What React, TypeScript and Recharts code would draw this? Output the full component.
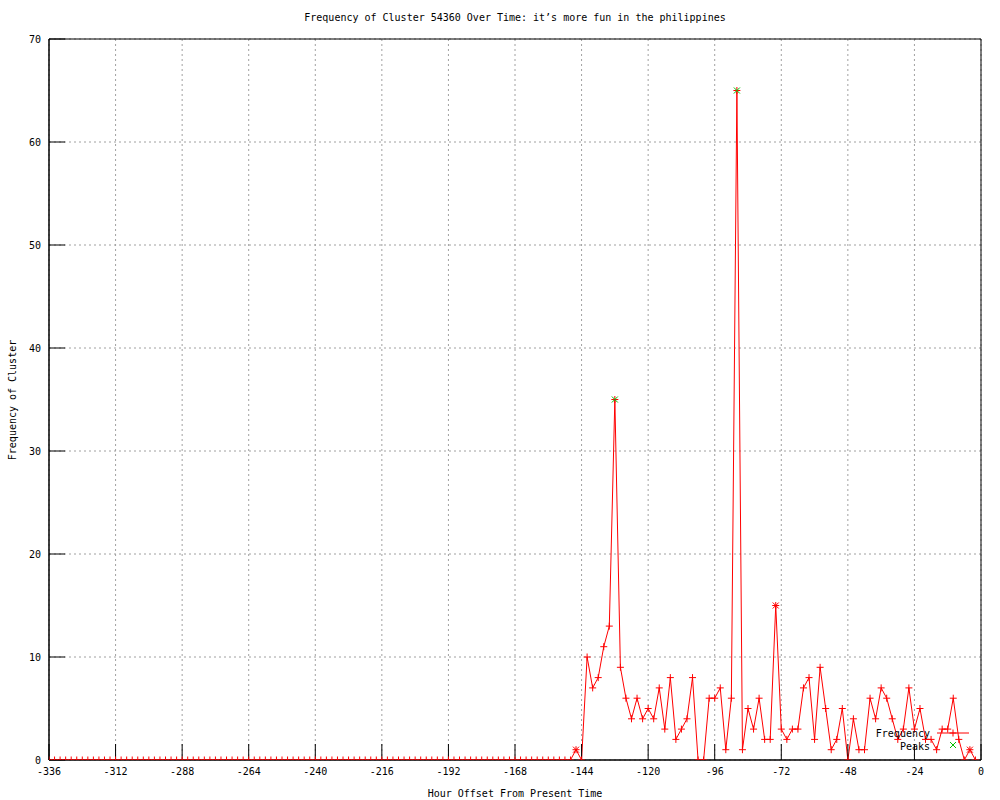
import React from 'react'
import { ComposedChart, Line, Scatter, XAxis, YAxis, CartesianGrid, ReferenceArea, Label } from 'recharts'

// hour offsets, every 2 hours from -336 to -2
const hours = Array.from({ length: 168 }, (_, i) => -336 + i * 2)

const frequency = [
  // -336 .. -148
  0, 0, 0, 0, 0, 0, 0, 0, 0, 0,
  0, 0, 0, 0, 0, 0, 0, 0, 0, 0,
  0, 0, 0, 0, 0, 0, 0, 0, 0, 0,
  0, 0, 0, 0, 0, 0, 0, 0, 0, 0,
  0, 0, 0, 0, 0, 0, 0, 0, 0, 0,
  0, 0, 0, 0, 0, 0, 0, 0, 0, 0,
  0, 0, 0, 0, 0, 0, 0, 0, 0, 0,
  0, 0, 0, 0, 0, 0, 0, 0, 0, 0,
  0, 0, 0, 0, 0, 0, 0, 0, 0, 0,
  0, 0, 0, 0, 0,
  // -146 .. -2
  1, 0, 10, 7, 8, 11, 13, 35, 9, 6,
  4, 6, 4, 5, 4, 7, 3, 8, 2, 3,
  4, 8, 0, 0, 6, 6, 7, 1, 6, 65,
  1, 5, 3, 6, 2, 2, 15, 3, 2, 3,
  3, 7, 8, 2, 9, 5, 1, 2, 5, 0,
  4, 1, 1, 6, 4, 7, 6, 4, 2, 3,
  7, 3, 5, 2, 2, 1, 3, 3, 6, 2,
  0, 1, 0,
]

const peakHours = [-132, -88]
const peakValues = [35, 65]
const starHours = [-146, -74, -4]
const starValues = [1, 15, 1]

const xTicks = [-336, -312, -288, -264, -240, -216, -192, -168, -144, -120, -96, -72, -48, -24, 0]
const yTicks = [0, 10, 20, 30, 40, 50, 60, 70]

const data = hours.map((h, i) => ({ hour: h, value: frequency[i] }))
const peaks = peakHours.map((h, i) => ({ hour: h, value: peakValues[i] }))
const stars = starHours.map((h, i) => ({ hour: h, value: starValues[i] }))

const FONT = 'DejaVu Sans Mono'
const tickStyle = { fontFamily: FONT, fontSize: 10, fill: '#000' }

const Plus = (props: any) => {
  const { cx, cy, index } = props
  if (cx == null || cy == null) return <g key={`p${index}`} />
  return <path key={`p${index}`} d={`M${cx - 3.5},${cy}H${cx + 3.5}M${cx},${cy - 3.5}V${cy + 3.5}`} stroke="#ff0000" strokeWidth={1} />
}

const Cross = (color: string) => (props: any) => {
  const { cx, cy } = props
  return <path d={`M${cx - 3},${cy - 3}L${cx + 3},${cy + 3}M${cx - 3},${cy + 3}L${cx + 3},${cy - 3}`} stroke={color} strokeWidth={1} fill="none" />
}

export default function App() {
  return (
    <div style={{ position: 'absolute', left: 0, top: 0, width: 1000, height: 800, background: '#fff' }}>
      <div style={{ position: 'absolute', top: 11, left: 0, width: 1030, textAlign: 'center', fontFamily: FONT, fontSize: 10, lineHeight: '13px' }}>
        Frequency of Cluster 54360 Over Time: it’s more fun in the philippines
      </div>
      <ComposedChart width={1000} height={800} data={data} margin={{ top: 39, right: 19, bottom: 0, left: 0 }}>
        <CartesianGrid stroke="#a0a0a0" strokeDasharray="2 3" />
        <XAxis dataKey="hour" type="number" domain={[-336, 0]} ticks={xTicks} height={40}
          tick={tickStyle} tickSize={-16} tickMargin={24} stroke="#000" allowDataOverflow>
          <Label content={() => (
            <text x={515} y={797} textAnchor="middle" fontFamily={FONT} fontSize={10} fill="#000">Hour Offset From Present Time</text>
          )} />
        </XAxis>
        <XAxis xAxisId="top" orientation="top" type="number" dataKey="hour" domain={[-336, 0]} ticks={xTicks} height={0}
          tick={false} tickSize={-16} stroke="#000" />
        <YAxis type="number" domain={[0, 70]} ticks={yTicks} width={49} tick={tickStyle} tickSize={-16} tickMargin={24} stroke="#000" allowDataOverflow>
          <Label content={() => (
            <text x={16} y={400} transform="rotate(-90, 16, 400)" textAnchor="middle" fontFamily={FONT} fontSize={10} fill="#000">Frequency of Cluster</text>
          )} />
        </YAxis>
        <YAxis yAxisId="right" orientation="right" type="number" domain={[0, 70]} ticks={yTicks} width={0} tick={false} tickSize={-16} stroke="#000" />
        <ReferenceArea x1={-336} x2={0} y1={0} y2={70} fill="none" stroke="#000" strokeWidth={1} />
        <Line type="linear" dataKey="value" stroke="#ff0000" strokeWidth={1} dot={Plus} activeDot={false} isAnimationActive={false} />
        <Scatter data={stars} dataKey="value" shape={Cross('#ff0000')} isAnimationActive={false} />
        <Scatter data={peaks} dataKey="value" shape={Cross('#00c000')} isAnimationActive={false} />
      </ComposedChart>
      <svg style={{ position: 'absolute', left: 860, top: 722, overflow: 'visible' }} width={120} height={32}>
        <text x={70} y={15} textAnchor="end" fontFamily={FONT} fontSize={10} fill="#000">Frequency</text>
        <line x1={77} x2={109} y1={11} y2={11} stroke="#ff0000" />
        <path d="M89.5,11H96.5M93,7.5V14.5" stroke="#ff0000" />
        <text x={70} y={28} textAnchor="end" fontFamily={FONT} fontSize={10} fill="#000">Peaks</text>
        <path d="M90,20L96,26M90,26L96,20" stroke="#00c000" />
      </svg>
    </div>
  )
}
